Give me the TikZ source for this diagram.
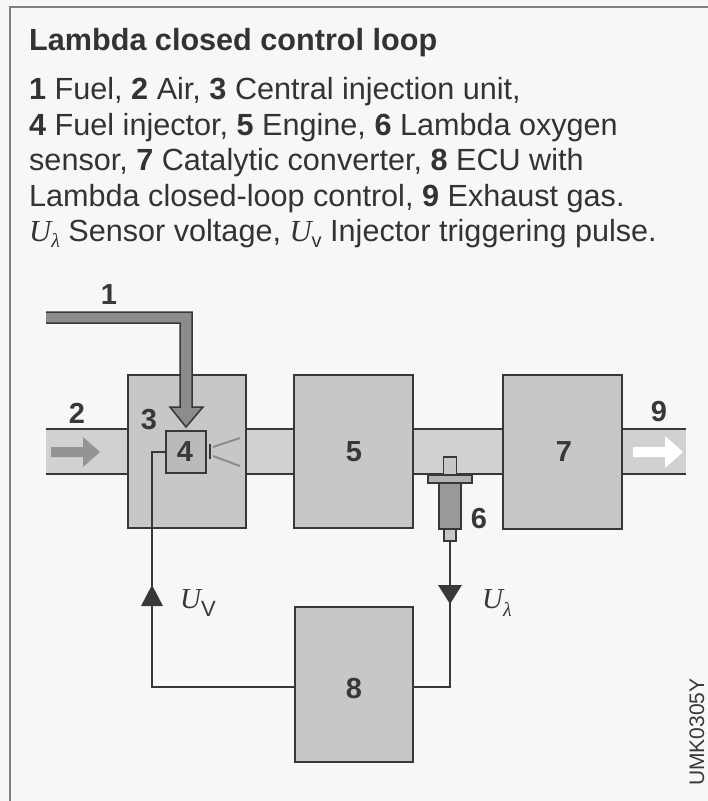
\documentclass[tikz,border=0pt]{standalone}
\usepackage{fontspec}
\setmainfont{Liberation Sans}
\newfontfamily\serifit{Liberation Serif}
\definecolor{ink}{gray}{0.22}
\definecolor{boxfill}{gray}{0.78}
\definecolor{tube}{gray}{0.82}
\definecolor{paper}{gray}{0.97}
\tikzset{
 x=1pt,y=-1pt,
 blockbox/.style={draw=ink,fill=boxfill,line width=2pt,outer sep=0pt,inner sep=0pt,anchor=north west},
 tubeline/.style={draw=ink,line width=2pt},
 wire/.style={draw=ink,line width=1.9pt},
 lab/.style={font=\fontsize{29}{29}\selectfont\bfseries,text=ink,inner sep=0pt},
 captext/.style={anchor=base west,inner sep=0pt,font=\fontsize{30.6}{36}\selectfont,text=black!80},
 volt/.style={inner sep=0pt,font=\fontsize{29}{29}\selectfont,text=ink},
}
\newcommand{\Ul}{{\serifit\itshape U}\raisebox{-0.3em}{\fontsize{20}{20}\selectfont\serifit\itshape λ}}
\begin{document}
\begin{tikzpicture}
\useasboundingbox (0,0) rectangle (708,801);
\fill[paper] (0,0) rectangle (708,801);
\draw[gray,line width=2pt] (10,801) -- (10,7) -- (708,7);
% caption
\node[captext] (t0) at (29,50) {\bfseries Lambda closed control loop};
\node[captext] (t1) at (29,99) {\textbf{1} Fuel, \textbf{2} Air, \textbf{3} Central injection unit,};
\node[captext] (t2) at (29,135) {\textbf{4} Fuel injector, \textbf{5} Engine, \textbf{6} Lambda oxygen};
\node[captext] (t3) at (29,170) {sensor, \textbf{7} Catalytic converter, \textbf{8} ECU with};
\node[captext] (t4) at (29,206) {Lambda closed-loop control, \textbf{9} Exhaust gas.};
\node[captext] (t5) at (29,241) {{\serifit\itshape U}\raisebox{-0.22em}{\fontsize{20}{20}\selectfont\serifit\itshape λ} Sensor voltage, {\serifit\itshape U}\raisebox{-0.22em}{\fontsize{20}{20}\selectfont v} Injector triggering pulse.};
% tubes
\fill[tube] (46,429) rectangle (128,474);
\fill[tube] (246,429) rectangle (294,474);
\fill[tube] (413,429) rectangle (503,474);
\fill[tube] (622,429) rectangle (686,474);
\foreach \a/\b in {46/128,246/294,413/503,622/686}{
 \draw[tubeline] (\a,429) -- (\b,429);
 \draw[tubeline] (\a,474) -- (\b,474);
}
% blocks
\node[blockbox,minimum width=118pt,minimum height=153pt] (b3) at (128,375) {};
\node[blockbox,minimum width=119pt,minimum height=153pt] (b5) at (294,375) {};
\node[blockbox,minimum width=119pt,minimum height=154pt] (b7) at (503,375) {};
\node[blockbox,minimum width=118pt,minimum height=155pt] (b8) at (295,607) {};
\node[blockbox,fill=black!27,minimum width=40pt,minimum height=42pt] (b4) at (166,431) {};
% fuel pipe
\fill[black!45] (46,312) -- (192,312) -- (192,407) -- (203,407) -- (186,427) -- (170,407) -- (180,407) -- (180,323) -- (46,323) -- cycle;
\draw[ink,line width=1.5pt] (46,312) -- (192,312) -- (192,407) -- (203,407) -- (186,427) -- (170,407) -- (180,407) -- (180,323) -- (46,323);
% flow arrows
\fill[black!42] (51,447) -- (83,447) -- (83,437) -- (100,452) -- (83,467) -- (83,457) -- (51,457) -- cycle;
\fill[white] (633,447) -- (665,447) -- (665,436) -- (683,452) -- (665,468) -- (665,457) -- (633,457) -- cycle;
% spray
\draw[ink,line width=1.6pt] (210,444) -- (210,459);
\draw[black!45,line width=2pt] (213,447) -- (240,438);
\draw[black!45,line width=2pt] (213,456) -- (240,466);
% sensor
\node[blockbox,line width=1.6pt,minimum width=13pt,minimum height=18pt] (s1) at (443.5,457) {};
\node[blockbox,fill=black!30,line width=1.6pt,minimum width=44pt,minimum height=8pt] (s2) at (428,475) {};
\node[blockbox,fill=black!40,line width=1.6pt,minimum width=22pt,minimum height=46pt] (s3) at (439,483) {};
\node[blockbox,line width=1.6pt,minimum width=12pt,minimum height=12pt] (s4) at (444,529) {};
% wires
\coordinate (leftup) at (152,687);
\coordinate (rightdn) at (450,687);
\coordinate (w4) at (152,452);
\draw[wire] (b4.west) -- (w4) -- (leftup) -- (b8.west |- leftup);
\draw[wire] (s4.south) -- (rightdn) -- (b8.east |- rightdn);
\fill[ink] (152,585) -- (163,606) -- (141,606) -- cycle;
\fill[ink] (450,604) -- (438,585) -- (462,585) -- cycle;
% labels
\node[lab] (n1) at (109,295) {1};
\node[lab] (n2) at (77,413) {2};
\node[lab] (n3) at (149,420) {3};
\node[lab] (n4) at (185,452) {4};
\node[lab] (n5) at (354,452) {5};
\node[lab] (n6) at (479,519) {6};
\node[lab] (n7) at (564,452) {7};
\node[lab] (n8) at (354,689) {8};
\node[lab] (n9) at (659,412) {9};
\node[volt] (uv) at (198,603) {{\serifit\itshape U}\raisebox{-0.3em}{\fontsize{22}{22}\selectfont V}};
\node[volt] (ul) at (497,603) {\Ul};
\node[inner sep=0pt,rotate=90,font=\fontsize{21}{22}\selectfont,text=ink] (code) at (697,732) {UMK0305Y};
\end{tikzpicture}
\end{document}
